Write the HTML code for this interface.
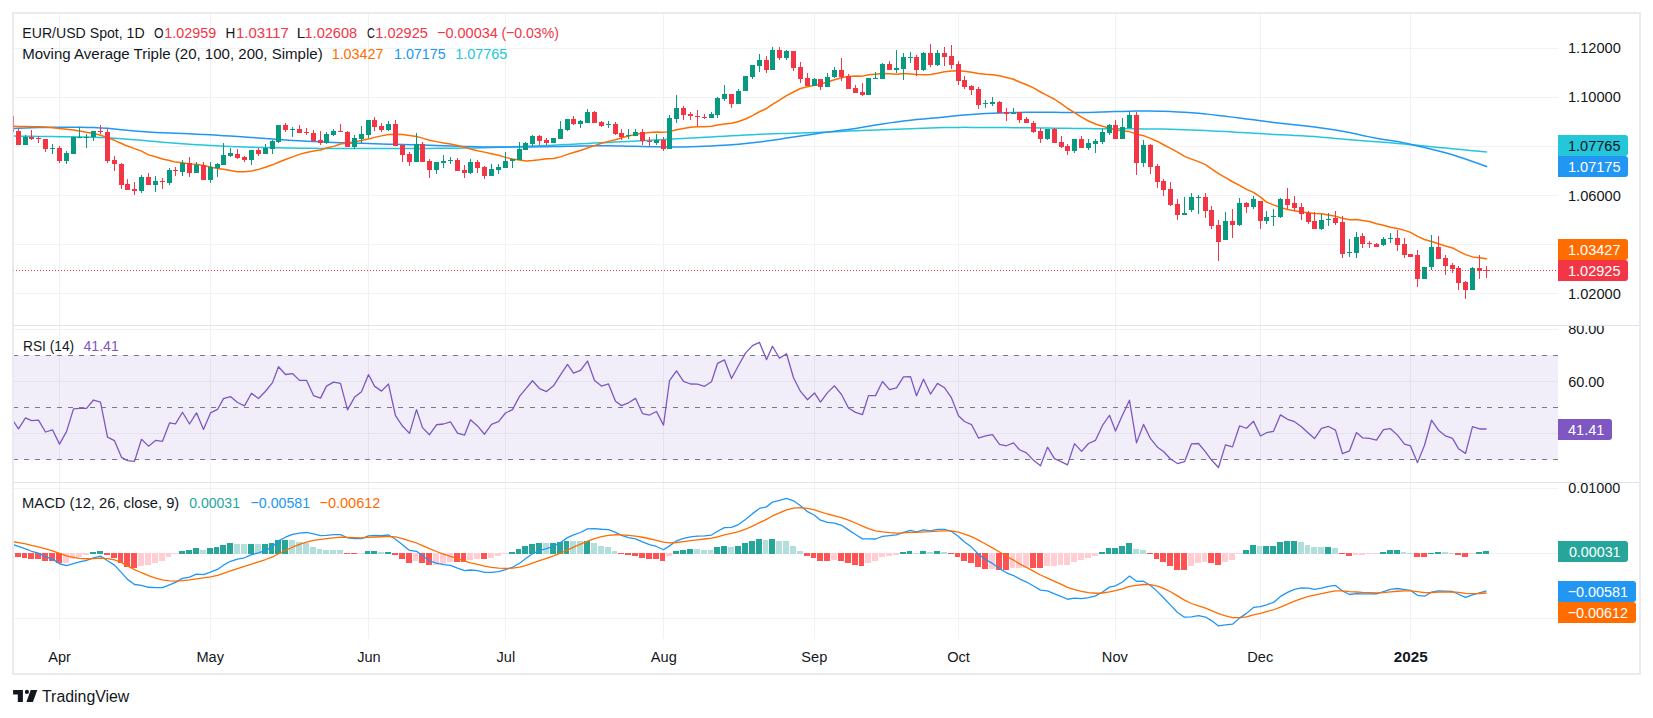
<!DOCTYPE html>
<html><head><meta charset="utf-8"><title>EUR/USD Chart</title>
<style>html,body{margin:0;padding:0;background:#fff;}body{width:1653px;height:718px;overflow:hidden;}</style>
</head><body>
<svg width="1653" height="718" viewBox="0 0 1653 718" style="display:block">
<defs>
<clipPath id="c1"><rect x="14" y="14" width="1544" height="311"/></clipPath>
<clipPath id="c2"><rect x="14" y="326" width="1544" height="156"/></clipPath>
<clipPath id="c3"><rect x="14" y="483" width="1544" height="156"/></clipPath>
<clipPath id="a2"><rect x="1558" y="326" width="81" height="156"/></clipPath>
<clipPath id="a3"><rect x="1558" y="483" width="81" height="156"/></clipPath>
</defs>
<rect width="1653" height="718" fill="#ffffff"/>
<rect x="59" y="14" width="1" height="625" fill="#f1f2f3"/>
<rect x="210" y="14" width="1" height="625" fill="#f1f2f3"/>
<rect x="368" y="14" width="1" height="625" fill="#f1f2f3"/>
<rect x="505" y="14" width="1" height="625" fill="#f1f2f3"/>
<rect x="663" y="14" width="1" height="625" fill="#f1f2f3"/>
<rect x="814" y="14" width="1" height="625" fill="#f1f2f3"/>
<rect x="958" y="14" width="1" height="625" fill="#f1f2f3"/>
<rect x="1115" y="14" width="1" height="625" fill="#f1f2f3"/>
<rect x="1260" y="14" width="1" height="625" fill="#f1f2f3"/>
<rect x="1410" y="14" width="1" height="625" fill="#f1f2f3"/>
<rect x="14" y="48" width="1544" height="1" fill="#f1f2f3"/>
<rect x="14" y="97" width="1544" height="1" fill="#f1f2f3"/>
<rect x="14" y="146" width="1544" height="1" fill="#f1f2f3"/>
<rect x="14" y="195" width="1544" height="1" fill="#f1f2f3"/>
<rect x="14" y="244" width="1544" height="1" fill="#f1f2f3"/>
<rect x="14" y="293" width="1544" height="1" fill="#f1f2f3"/>
<rect x="14" y="329" width="1544" height="1" fill="#f1f2f3"/>
<rect x="14" y="381" width="1544" height="1" fill="#f1f2f3"/>
<rect x="14" y="433" width="1544" height="1" fill="#f1f2f3"/>
<rect x="14" y="488" width="1544" height="1" fill="#f1f2f3"/>
<rect x="14" y="553" width="1544" height="1" fill="#f1f2f3"/>
<rect x="14" y="618" width="1544" height="1" fill="#f1f2f3"/>
<rect x="14" y="355" width="1544" height="105" fill="#7e57c2" fill-opacity="0.1"/>
<line x1="14" y1="355.5" x2="1558" y2="355.5" stroke="#787b86" stroke-width="1" stroke-dasharray="5 6" stroke-dashoffset="1"/>
<line x1="14" y1="407.5" x2="1558" y2="407.5" stroke="#787b86" stroke-width="1" stroke-dasharray="5 6" stroke-dashoffset="1"/>
<line x1="14" y1="459.5" x2="1558" y2="459.5" stroke="#787b86" stroke-width="1" stroke-dasharray="5 6" stroke-dashoffset="1"/>
<g clip-path="url(#c1)" fill="none" stroke-linejoin="round" stroke-linecap="round">
<path d="M11.50,136.08 L18.50,136.15 L25.50,136.23 L31.50,136.31 L38.50,136.38 L45.50,136.46 L52.50,136.55 L59.50,136.64 L66.50,136.74 L73.50,136.84 L79.50,136.94 L86.50,137.05 L93.50,137.19 L100.50,137.40 L107.50,137.73 L114.50,138.16 L121.50,138.66 L127.50,139.19 L134.50,139.76 L141.50,140.37 L148.50,141.00 L155.50,141.61 L162.50,142.22 L169.50,142.80 L175.50,143.36 L182.50,143.87 L189.50,144.32 L196.50,144.72 L203.50,145.09 L210.50,145.45 L217.50,145.80 L223.50,146.15 L230.50,146.49 L237.50,146.80 L244.50,147.05 L251.50,147.25 L258.50,147.42 L265.50,147.58 L272.50,147.73 L278.50,147.87 L285.50,147.99 L292.50,148.10 L299.50,148.18 L306.50,148.26 L313.50,148.34 L320.50,148.41 L326.50,148.46 L333.50,148.49 L340.50,148.50 L347.50,148.50 L354.50,148.50 L361.50,148.50 L368.50,148.50 L374.50,148.50 L381.50,148.50 L388.50,148.50 L395.50,148.50 L402.50,148.50 L409.50,148.49 L416.50,148.47 L422.50,148.43 L429.50,148.38 L436.50,148.33 L443.50,148.28 L450.50,148.22 L457.50,148.17 L464.50,148.12 L470.50,148.05 L477.50,147.95 L484.50,147.79 L491.50,147.58 L498.50,147.34 L505.50,147.09 L512.50,146.83 L519.50,146.56 L525.50,146.29 L532.50,146.01 L539.50,145.73 L546.50,145.43 L553.50,145.13 L560.50,144.81 L567.50,144.49 L573.50,144.15 L580.50,143.81 L587.50,143.47 L594.50,143.12 L601.50,142.77 L608.50,142.43 L615.50,142.10 L621.50,141.78 L628.50,141.45 L635.50,141.11 L642.50,140.75 L649.50,140.35 L656.50,139.94 L663.50,139.53 L669.50,139.14 L676.50,138.77 L683.50,138.41 L690.50,138.06 L697.50,137.71 L704.50,137.34 L711.50,136.98 L717.50,136.61 L724.50,136.24 L731.50,135.85 L738.50,135.46 L745.50,135.08 L752.50,134.70 L759.50,134.36 L766.50,134.08 L772.50,133.83 L779.50,133.60 L786.50,133.38 L793.50,133.15 L800.50,132.92 L807.50,132.70 L814.50,132.47 L820.50,132.23 L827.50,131.97 L834.50,131.69 L841.50,131.40 L848.50,131.10 L855.50,130.81 L862.50,130.52 L868.50,130.24 L875.50,129.96 L882.50,129.68 L889.50,129.41 L896.50,129.15 L903.50,128.91 L910.50,128.66 L916.50,128.43 L923.50,128.19 L930.50,127.95 L937.50,127.74 L944.50,127.57 L951.50,127.45 L958.50,127.38 L964.50,127.36 L971.50,127.38 L978.50,127.42 L985.50,127.46 L992.50,127.51 L999.50,127.55 L1006.50,127.60 L1013.50,127.65 L1019.50,127.71 L1026.50,127.78 L1033.50,127.87 L1040.50,127.97 L1047.50,128.08 L1054.50,128.18 L1061.50,128.28 L1067.50,128.37 L1074.50,128.47 L1081.50,128.55 L1088.50,128.61 L1095.50,128.66 L1102.50,128.69 L1109.50,128.73 L1115.50,128.76 L1122.50,128.79 L1129.50,128.83 L1136.50,128.86 L1143.50,128.89 L1150.50,128.93 L1157.50,128.98 L1163.50,129.08 L1170.50,129.24 L1177.50,129.46 L1184.50,129.71 L1191.50,129.97 L1198.50,130.26 L1205.50,130.57 L1211.50,130.91 L1218.50,131.26 L1225.50,131.62 L1232.50,132.00 L1239.50,132.39 L1246.50,132.80 L1253.50,133.21 L1260.50,133.61 L1266.50,134.01 L1273.50,134.39 L1280.50,134.75 L1287.50,135.09 L1294.50,135.42 L1301.50,135.76 L1308.50,136.13 L1314.50,136.59 L1321.50,137.16 L1328.50,137.81 L1335.50,138.45 L1342.50,139.06 L1349.50,139.63 L1356.50,140.16 L1362.50,140.67 L1369.50,141.19 L1376.50,141.72 L1383.50,142.27 L1390.50,142.82 L1397.50,143.41 L1404.50,144.03 L1410.50,144.69 L1417.50,145.36 L1424.50,146.05 L1431.50,146.74 L1438.50,147.42 L1445.50,148.09 L1452.50,148.74 L1458.50,149.37 L1465.50,150.01 L1472.50,150.67 L1479.50,151.33 L1486.50,152.00" stroke="#26c6da" stroke-width="1.5"/>
<path d="M11.50,128.47 L18.50,128.25 L25.50,128.03 L31.50,127.82 L38.50,127.61 L45.50,127.40 L52.50,127.24 L59.50,127.15 L66.50,127.17 L73.50,127.24 L79.50,127.34 L86.50,127.45 L93.50,127.61 L100.50,127.90 L107.50,128.37 L114.50,129.01 L121.50,129.69 L127.50,130.34 L134.50,130.92 L141.50,131.45 L148.50,131.95 L155.50,132.38 L162.50,132.71 L169.50,132.98 L175.50,133.22 L182.50,133.49 L189.50,133.80 L196.50,134.14 L203.50,134.50 L210.50,134.87 L217.50,135.25 L223.50,135.64 L230.50,136.05 L237.50,136.49 L244.50,136.98 L251.50,137.50 L258.50,138.04 L265.50,138.58 L272.50,139.10 L278.50,139.59 L285.50,140.03 L292.50,140.43 L299.50,140.80 L306.50,141.16 L313.50,141.51 L320.50,141.84 L326.50,142.14 L333.50,142.41 L340.50,142.66 L347.50,142.90 L354.50,143.14 L361.50,143.37 L368.50,143.59 L374.50,143.79 L381.50,143.97 L388.50,144.15 L395.50,144.33 L402.50,144.50 L409.50,144.68 L416.50,144.86 L422.50,145.04 L429.50,145.23 L436.50,145.42 L443.50,145.64 L450.50,145.88 L457.50,146.13 L464.50,146.38 L470.50,146.59 L477.50,146.76 L484.50,146.88 L491.50,146.97 L498.50,147.04 L505.50,147.10 L512.50,147.11 L519.50,147.08 L525.50,147.00 L532.50,146.89 L539.50,146.78 L546.50,146.67 L553.50,146.55 L560.50,146.43 L567.50,146.31 L573.50,146.19 L580.50,146.07 L587.50,145.95 L594.50,145.86 L601.50,145.82 L608.50,145.87 L615.50,145.97 L621.50,146.09 L628.50,146.21 L635.50,146.34 L642.50,146.48 L649.50,146.64 L656.50,146.79 L663.50,146.93 L669.50,147.02 L676.50,147.01 L683.50,146.90 L690.50,146.73 L697.50,146.51 L704.50,146.25 L711.50,145.94 L717.50,145.61 L724.50,145.23 L731.50,144.75 L738.50,144.16 L745.50,143.49 L752.50,142.76 L759.50,141.97 L766.50,141.10 L772.50,140.15 L779.50,139.15 L786.50,138.11 L793.50,137.06 L800.50,136.01 L807.50,134.98 L814.50,133.98 L820.50,133.03 L827.50,132.12 L834.50,131.23 L841.50,130.34 L848.50,129.40 L855.50,128.39 L862.50,127.29 L868.50,126.15 L875.50,125.00 L882.50,123.89 L889.50,122.87 L896.50,121.95 L903.50,121.09 L910.50,120.30 L916.50,119.60 L923.50,118.96 L930.50,118.32 L937.50,117.64 L944.50,116.91 L951.50,116.17 L958.50,115.49 L964.50,114.92 L971.50,114.44 L978.50,114.00 L985.50,113.60 L992.50,113.26 L999.50,112.98 L1006.50,112.76 L1013.50,112.58 L1019.50,112.43 L1026.50,112.35 L1033.50,112.31 L1040.50,112.31 L1047.50,112.32 L1054.50,112.37 L1061.50,112.45 L1067.50,112.55 L1074.50,112.62 L1081.50,112.62 L1088.50,112.51 L1095.50,112.30 L1102.50,112.05 L1109.50,111.80 L1115.50,111.58 L1122.50,111.38 L1129.50,111.20 L1136.50,111.05 L1143.50,110.97 L1150.50,111.01 L1157.50,111.14 L1163.50,111.35 L1170.50,111.62 L1177.50,111.95 L1184.50,112.31 L1191.50,112.72 L1198.50,113.23 L1205.50,113.88 L1211.50,114.63 L1218.50,115.44 L1225.50,116.27 L1232.50,117.13 L1239.50,118.02 L1246.50,118.92 L1253.50,119.84 L1260.50,120.73 L1266.50,121.61 L1273.50,122.46 L1280.50,123.27 L1287.50,124.04 L1294.50,124.80 L1301.50,125.54 L1308.50,126.30 L1314.50,127.09 L1321.50,127.96 L1328.50,128.92 L1335.50,130.00 L1342.50,131.23 L1349.50,132.57 L1356.50,133.96 L1362.50,135.41 L1369.50,136.88 L1376.50,138.26 L1383.50,139.45 L1390.50,140.51 L1397.50,141.61 L1404.50,142.87 L1410.50,144.32 L1417.50,145.92 L1424.50,147.60 L1431.50,149.33 L1438.50,151.07 L1445.50,152.83 L1452.50,154.68 L1458.50,156.72 L1465.50,159.00 L1472.50,161.45 L1479.50,163.97 L1486.50,166.50" stroke="#2196f3" stroke-width="1.5"/>
<path d="M11.50,126.27 L18.50,126.42 L25.50,126.56 L31.50,126.69 L38.50,126.84 L45.50,126.98 L52.50,127.71 L59.50,128.50 L66.50,129.30 L73.50,130.10 L79.50,131.01 L86.50,132.20 L93.50,133.39 L100.50,135.17 L107.50,137.59 L114.50,140.31 L121.50,143.48 L127.50,146.07 L134.50,148.62 L141.50,151.17 L148.50,154.88 L155.50,156.70 L162.50,158.96 L169.50,160.50 L175.50,162.10 L182.50,162.81 L189.50,164.06 L196.50,164.26 L203.50,165.58 L210.50,167.06 L217.50,168.42 L223.50,169.32 L230.50,170.44 L237.50,171.71 L244.50,171.66 L251.50,170.95 L258.50,169.39 L265.50,167.31 L272.50,164.82 L278.50,162.22 L285.50,159.47 L292.50,156.85 L299.50,154.37 L306.50,152.49 L313.50,151.00 L320.50,149.98 L326.50,148.05 L333.50,146.36 L340.50,143.96 L347.50,142.95 L354.50,141.64 L361.50,140.59 L368.50,138.93 L374.50,137.38 L381.50,135.87 L388.50,134.56 L395.50,134.17 L402.50,134.51 L409.50,135.56 L416.50,136.51 L422.50,138.11 L429.50,140.16 L436.50,141.64 L443.50,143.08 L450.50,144.01 L457.50,145.41 L464.50,147.34 L470.50,148.90 L477.50,150.70 L484.50,152.14 L491.50,153.69 L498.50,155.34 L505.50,157.39 L512.50,159.01 L519.50,159.98 L525.50,160.94 L532.50,160.45 L539.50,159.75 L546.50,158.80 L553.50,158.50 L560.50,156.86 L567.50,154.34 L573.50,152.42 L580.50,150.42 L587.50,148.03 L594.50,145.64 L601.50,143.29 L608.50,141.39 L615.50,139.72 L621.50,137.79 L628.50,136.10 L635.50,134.36 L642.50,133.37 L649.50,132.54 L656.50,132.10 L663.50,132.37 L669.50,131.48 L676.50,129.84 L683.50,128.45 L690.50,127.36 L697.50,126.73 L704.50,126.66 L711.50,126.17 L717.50,125.00 L724.50,124.10 L731.50,123.17 L738.50,121.45 L745.50,119.04 L752.50,115.59 L759.50,111.75 L766.50,108.47 L772.50,104.35 L779.50,100.16 L786.50,95.60 L793.50,91.96 L800.50,88.46 L807.50,86.84 L814.50,85.37 L820.50,83.97 L827.50,82.01 L834.50,79.69 L841.50,77.66 L848.50,76.38 L855.50,76.12 L862.50,76.14 L868.50,74.84 L875.50,74.19 L882.50,73.58 L889.50,73.81 L896.50,74.22 L903.50,73.58 L910.50,73.91 L916.50,74.53 L923.50,74.64 L930.50,74.50 L937.50,73.22 L944.50,71.76 L951.50,71.06 L958.50,70.76 L964.50,71.23 L971.50,72.22 L978.50,73.60 L985.50,74.32 L992.50,74.78 L999.50,75.69 L1006.50,77.51 L1013.50,79.25 L1019.50,82.04 L1026.50,84.72 L1033.50,87.91 L1040.50,92.00 L1047.50,95.62 L1054.50,99.25 L1061.50,103.93 L1067.50,108.24 L1074.50,112.52 L1081.50,117.07 L1088.50,120.99 L1095.50,124.01 L1102.50,126.27 L1109.50,128.03 L1115.50,129.75 L1122.50,130.97 L1129.50,131.61 L1136.50,134.13 L1143.50,135.66 L1150.50,138.36 L1157.50,141.44 L1163.50,144.76 L1170.50,148.40 L1177.50,152.19 L1184.50,156.39 L1191.50,159.11 L1198.50,161.62 L1205.50,164.61 L1211.50,168.96 L1218.50,173.66 L1225.50,177.56 L1232.50,181.74 L1239.50,185.31 L1246.50,189.38 L1253.50,192.39 L1260.50,197.06 L1266.50,202.17 L1273.50,204.83 L1280.50,207.53 L1287.50,209.44 L1294.50,210.74 L1301.50,211.93 L1308.50,212.77 L1314.50,213.48 L1321.50,213.83 L1328.50,214.91 L1335.50,216.20 L1342.50,218.35 L1349.50,219.66 L1356.50,219.42 L1362.50,220.56 L1369.50,221.55 L1376.50,223.72 L1383.50,225.34 L1390.50,227.30 L1397.50,228.50 L1404.50,230.36 L1410.50,232.39 L1417.50,236.37 L1424.50,239.50 L1431.50,241.47 L1438.50,243.72 L1445.50,245.93 L1452.50,247.94 L1458.50,251.07 L1465.50,254.62 L1472.50,256.89 L1479.50,257.73 L1486.50,258.68" stroke="#ff6d00" stroke-width="1.5"/>
</g>
<g clip-path="url(#c1)">
<rect x="18" y="129" width="1" height="16" fill="#f23645"/>
<rect x="16" y="131" width="5" height="14" fill="#f23645"/>
<rect x="25" y="135" width="1" height="10" fill="#089981"/>
<rect x="23" y="137" width="5" height="8" fill="#089981"/>
<rect x="31" y="130" width="1" height="10" fill="#f23645"/>
<rect x="29" y="137" width="5" height="2" fill="#f23645"/>
<rect x="38" y="136" width="1" height="7" fill="#f23645"/>
<rect x="36" y="138" width="5" height="1" fill="#f23645"/>
<rect x="45" y="139" width="1" height="13" fill="#f23645"/>
<rect x="43" y="139" width="5" height="10" fill="#f23645"/>
<rect x="52" y="144" width="1" height="10" fill="#089981"/>
<rect x="50" y="148" width="5" height="1" fill="#089981"/>
<rect x="59" y="146" width="1" height="17" fill="#f23645"/>
<rect x="57" y="148" width="5" height="13" fill="#f23645"/>
<rect x="66" y="151" width="1" height="13" fill="#089981"/>
<rect x="64" y="153" width="5" height="8" fill="#089981"/>
<rect x="73" y="137" width="1" height="17" fill="#089981"/>
<rect x="71" y="137" width="5" height="17" fill="#089981"/>
<rect x="79" y="127" width="1" height="11" fill="#089981"/>
<rect x="77" y="137" width="5" height="1" fill="#089981"/>
<rect x="86" y="134" width="1" height="14" fill="#089981"/>
<rect x="84" y="137" width="5" height="1" fill="#089981"/>
<rect x="93" y="131" width="1" height="10" fill="#089981"/>
<rect x="91" y="131" width="5" height="6" fill="#089981"/>
<rect x="100" y="125" width="1" height="9" fill="#f23645"/>
<rect x="98" y="131" width="5" height="1" fill="#f23645"/>
<rect x="107" y="129" width="1" height="34" fill="#f23645"/>
<rect x="105" y="132" width="5" height="29" fill="#f23645"/>
<rect x="114" y="156" width="1" height="15" fill="#f23645"/>
<rect x="112" y="160" width="5" height="4" fill="#f23645"/>
<rect x="121" y="163" width="1" height="26" fill="#f23645"/>
<rect x="119" y="164" width="5" height="21" fill="#f23645"/>
<rect x="127" y="179" width="1" height="11" fill="#f23645"/>
<rect x="125" y="184" width="5" height="6" fill="#f23645"/>
<rect x="134" y="182" width="1" height="13" fill="#f23645"/>
<rect x="132" y="189" width="5" height="2" fill="#f23645"/>
<rect x="141" y="175" width="1" height="18" fill="#089981"/>
<rect x="139" y="177" width="5" height="14" fill="#089981"/>
<rect x="148" y="173" width="1" height="12" fill="#f23645"/>
<rect x="146" y="177" width="5" height="8" fill="#f23645"/>
<rect x="155" y="176" width="1" height="16" fill="#089981"/>
<rect x="153" y="181" width="5" height="4" fill="#089981"/>
<rect x="162" y="178" width="1" height="11" fill="#f23645"/>
<rect x="160" y="181" width="5" height="1" fill="#f23645"/>
<rect x="169" y="168" width="1" height="17" fill="#089981"/>
<rect x="167" y="170" width="5" height="13" fill="#089981"/>
<rect x="175" y="167" width="1" height="9" fill="#f23645"/>
<rect x="173" y="170" width="5" height="1" fill="#f23645"/>
<rect x="182" y="160" width="1" height="16" fill="#089981"/>
<rect x="180" y="163" width="5" height="9" fill="#089981"/>
<rect x="189" y="157" width="1" height="20" fill="#f23645"/>
<rect x="187" y="163" width="5" height="10" fill="#f23645"/>
<rect x="196" y="162" width="1" height="11" fill="#089981"/>
<rect x="194" y="165" width="5" height="8" fill="#089981"/>
<rect x="203" y="162" width="1" height="18" fill="#f23645"/>
<rect x="201" y="165" width="5" height="15" fill="#f23645"/>
<rect x="210" y="162" width="1" height="21" fill="#089981"/>
<rect x="208" y="167" width="5" height="13" fill="#089981"/>
<rect x="217" y="163" width="1" height="14" fill="#089981"/>
<rect x="215" y="164" width="5" height="4" fill="#089981"/>
<rect x="223" y="143" width="1" height="22" fill="#089981"/>
<rect x="221" y="155" width="5" height="10" fill="#089981"/>
<rect x="230" y="148" width="1" height="9" fill="#089981"/>
<rect x="228" y="153" width="5" height="3" fill="#089981"/>
<rect x="237" y="149" width="1" height="10" fill="#f23645"/>
<rect x="235" y="154" width="5" height="4" fill="#f23645"/>
<rect x="244" y="156" width="1" height="6" fill="#f23645"/>
<rect x="242" y="157" width="5" height="3" fill="#f23645"/>
<rect x="251" y="150" width="1" height="15" fill="#089981"/>
<rect x="249" y="150" width="5" height="10" fill="#089981"/>
<rect x="258" y="148" width="1" height="8" fill="#f23645"/>
<rect x="256" y="150" width="5" height="4" fill="#f23645"/>
<rect x="265" y="144" width="1" height="10" fill="#089981"/>
<rect x="263" y="148" width="5" height="6" fill="#089981"/>
<rect x="272" y="140" width="1" height="14" fill="#089981"/>
<rect x="270" y="141" width="5" height="8" fill="#089981"/>
<rect x="278" y="125" width="1" height="18" fill="#089981"/>
<rect x="276" y="125" width="5" height="17" fill="#089981"/>
<rect x="285" y="123" width="1" height="9" fill="#f23645"/>
<rect x="283" y="125" width="5" height="5" fill="#f23645"/>
<rect x="292" y="127" width="1" height="10" fill="#089981"/>
<rect x="290" y="129" width="5" height="1" fill="#089981"/>
<rect x="299" y="125" width="1" height="8" fill="#f23645"/>
<rect x="297" y="129" width="5" height="4" fill="#f23645"/>
<rect x="306" y="128" width="1" height="7" fill="#f23645"/>
<rect x="304" y="132" width="5" height="1" fill="#f23645"/>
<rect x="313" y="130" width="1" height="12" fill="#f23645"/>
<rect x="311" y="133" width="5" height="8" fill="#f23645"/>
<rect x="320" y="131" width="1" height="14" fill="#f23645"/>
<rect x="318" y="140" width="5" height="3" fill="#f23645"/>
<rect x="326" y="132" width="1" height="12" fill="#089981"/>
<rect x="324" y="134" width="5" height="9" fill="#089981"/>
<rect x="333" y="129" width="1" height="7" fill="#089981"/>
<rect x="331" y="131" width="5" height="4" fill="#089981"/>
<rect x="340" y="124" width="1" height="8" fill="#f23645"/>
<rect x="338" y="131" width="5" height="1" fill="#f23645"/>
<rect x="347" y="131" width="1" height="16" fill="#f23645"/>
<rect x="345" y="132" width="5" height="15" fill="#f23645"/>
<rect x="354" y="135" width="1" height="14" fill="#089981"/>
<rect x="352" y="138" width="5" height="9" fill="#089981"/>
<rect x="361" y="126" width="1" height="17" fill="#089981"/>
<rect x="359" y="134" width="5" height="5" fill="#089981"/>
<rect x="368" y="120" width="1" height="18" fill="#089981"/>
<rect x="366" y="120" width="5" height="15" fill="#089981"/>
<rect x="374" y="117" width="1" height="14" fill="#f23645"/>
<rect x="372" y="120" width="5" height="7" fill="#f23645"/>
<rect x="381" y="123" width="1" height="9" fill="#f23645"/>
<rect x="379" y="126" width="5" height="4" fill="#f23645"/>
<rect x="388" y="121" width="1" height="10" fill="#089981"/>
<rect x="386" y="124" width="5" height="6" fill="#089981"/>
<rect x="395" y="120" width="1" height="26" fill="#f23645"/>
<rect x="393" y="124" width="5" height="22" fill="#f23645"/>
<rect x="402" y="145" width="1" height="17" fill="#f23645"/>
<rect x="400" y="145" width="5" height="10" fill="#f23645"/>
<rect x="409" y="152" width="1" height="14" fill="#f23645"/>
<rect x="407" y="154" width="5" height="8" fill="#f23645"/>
<rect x="416" y="133" width="1" height="29" fill="#089981"/>
<rect x="414" y="144" width="5" height="18" fill="#089981"/>
<rect x="422" y="142" width="1" height="20" fill="#f23645"/>
<rect x="420" y="144" width="5" height="18" fill="#f23645"/>
<rect x="429" y="159" width="1" height="19" fill="#f23645"/>
<rect x="427" y="161" width="5" height="9" fill="#f23645"/>
<rect x="436" y="162" width="1" height="12" fill="#089981"/>
<rect x="434" y="162" width="5" height="8" fill="#089981"/>
<rect x="443" y="155" width="1" height="13" fill="#089981"/>
<rect x="441" y="161" width="5" height="2" fill="#089981"/>
<rect x="450" y="157" width="1" height="7" fill="#089981"/>
<rect x="448" y="160" width="5" height="1" fill="#089981"/>
<rect x="457" y="158" width="1" height="13" fill="#f23645"/>
<rect x="455" y="160" width="5" height="11" fill="#f23645"/>
<rect x="464" y="165" width="1" height="13" fill="#f23645"/>
<rect x="462" y="170" width="5" height="3" fill="#f23645"/>
<rect x="470" y="159" width="1" height="15" fill="#089981"/>
<rect x="468" y="162" width="5" height="11" fill="#089981"/>
<rect x="477" y="160" width="1" height="13" fill="#f23645"/>
<rect x="475" y="162" width="5" height="6" fill="#f23645"/>
<rect x="484" y="166" width="1" height="13" fill="#f23645"/>
<rect x="482" y="167" width="5" height="9" fill="#f23645"/>
<rect x="491" y="164" width="1" height="12" fill="#089981"/>
<rect x="489" y="169" width="5" height="7" fill="#089981"/>
<rect x="498" y="164" width="1" height="10" fill="#089981"/>
<rect x="496" y="167" width="5" height="3" fill="#089981"/>
<rect x="505" y="152" width="1" height="16" fill="#089981"/>
<rect x="503" y="161" width="5" height="7" fill="#089981"/>
<rect x="512" y="159" width="1" height="9" fill="#089981"/>
<rect x="510" y="159" width="5" height="2" fill="#089981"/>
<rect x="519" y="142" width="1" height="18" fill="#089981"/>
<rect x="517" y="149" width="5" height="11" fill="#089981"/>
<rect x="525" y="142" width="1" height="8" fill="#089981"/>
<rect x="523" y="143" width="5" height="7" fill="#089981"/>
<rect x="532" y="135" width="1" height="11" fill="#089981"/>
<rect x="530" y="136" width="5" height="8" fill="#089981"/>
<rect x="539" y="135" width="1" height="10" fill="#f23645"/>
<rect x="537" y="136" width="5" height="5" fill="#f23645"/>
<rect x="546" y="138" width="1" height="7" fill="#f23645"/>
<rect x="544" y="140" width="5" height="3" fill="#f23645"/>
<rect x="553" y="138" width="1" height="5" fill="#089981"/>
<rect x="551" y="138" width="5" height="5" fill="#089981"/>
<rect x="560" y="121" width="1" height="18" fill="#089981"/>
<rect x="558" y="129" width="5" height="10" fill="#089981"/>
<rect x="567" y="119" width="1" height="12" fill="#089981"/>
<rect x="565" y="119" width="5" height="11" fill="#089981"/>
<rect x="573" y="116" width="1" height="9" fill="#f23645"/>
<rect x="571" y="119" width="5" height="5" fill="#f23645"/>
<rect x="580" y="120" width="1" height="8" fill="#089981"/>
<rect x="578" y="121" width="5" height="3" fill="#089981"/>
<rect x="587" y="109" width="1" height="14" fill="#089981"/>
<rect x="585" y="112" width="5" height="11" fill="#089981"/>
<rect x="594" y="111" width="1" height="12" fill="#f23645"/>
<rect x="592" y="112" width="5" height="11" fill="#f23645"/>
<rect x="601" y="121" width="1" height="6" fill="#f23645"/>
<rect x="599" y="122" width="5" height="4" fill="#f23645"/>
<rect x="608" y="121" width="1" height="7" fill="#089981"/>
<rect x="606" y="124" width="5" height="1" fill="#089981"/>
<rect x="615" y="122" width="1" height="13" fill="#f23645"/>
<rect x="613" y="124" width="5" height="10" fill="#f23645"/>
<rect x="621" y="129" width="1" height="11" fill="#f23645"/>
<rect x="619" y="133" width="5" height="4" fill="#f23645"/>
<rect x="628" y="129" width="1" height="10" fill="#089981"/>
<rect x="626" y="135" width="5" height="1" fill="#089981"/>
<rect x="635" y="129" width="1" height="7" fill="#089981"/>
<rect x="633" y="132" width="5" height="4" fill="#089981"/>
<rect x="642" y="129" width="1" height="16" fill="#f23645"/>
<rect x="640" y="132" width="5" height="9" fill="#f23645"/>
<rect x="649" y="137" width="1" height="9" fill="#f23645"/>
<rect x="647" y="141" width="5" height="1" fill="#f23645"/>
<rect x="656" y="134" width="1" height="11" fill="#089981"/>
<rect x="654" y="140" width="5" height="3" fill="#089981"/>
<rect x="663" y="137" width="1" height="14" fill="#f23645"/>
<rect x="661" y="140" width="5" height="9" fill="#f23645"/>
<rect x="669" y="115" width="1" height="34" fill="#089981"/>
<rect x="667" y="118" width="5" height="31" fill="#089981"/>
<rect x="676" y="95" width="1" height="28" fill="#089981"/>
<rect x="674" y="108" width="5" height="11" fill="#089981"/>
<rect x="683" y="106" width="1" height="14" fill="#f23645"/>
<rect x="681" y="108" width="5" height="7" fill="#f23645"/>
<rect x="690" y="112" width="1" height="8" fill="#f23645"/>
<rect x="688" y="114" width="5" height="2" fill="#f23645"/>
<rect x="697" y="110" width="1" height="16" fill="#f23645"/>
<rect x="695" y="116" width="5" height="1" fill="#f23645"/>
<rect x="704" y="114" width="1" height="5" fill="#f23645"/>
<rect x="702" y="117" width="5" height="1" fill="#f23645"/>
<rect x="711" y="112" width="1" height="6" fill="#089981"/>
<rect x="709" y="114" width="5" height="4" fill="#089981"/>
<rect x="717" y="97" width="1" height="21" fill="#089981"/>
<rect x="715" y="98" width="5" height="17" fill="#089981"/>
<rect x="724" y="85" width="1" height="16" fill="#089981"/>
<rect x="722" y="94" width="5" height="5" fill="#089981"/>
<rect x="731" y="94" width="1" height="14" fill="#f23645"/>
<rect x="729" y="94" width="5" height="10" fill="#f23645"/>
<rect x="738" y="89" width="1" height="15" fill="#089981"/>
<rect x="736" y="91" width="5" height="13" fill="#089981"/>
<rect x="745" y="76" width="1" height="15" fill="#089981"/>
<rect x="743" y="76" width="5" height="15" fill="#089981"/>
<rect x="752" y="65" width="1" height="14" fill="#089981"/>
<rect x="750" y="65" width="5" height="12" fill="#089981"/>
<rect x="759" y="54" width="1" height="18" fill="#089981"/>
<rect x="757" y="60" width="5" height="6" fill="#089981"/>
<rect x="766" y="56" width="1" height="17" fill="#f23645"/>
<rect x="764" y="60" width="5" height="10" fill="#f23645"/>
<rect x="772" y="47" width="1" height="23" fill="#089981"/>
<rect x="770" y="50" width="5" height="20" fill="#089981"/>
<rect x="779" y="47" width="1" height="13" fill="#f23645"/>
<rect x="777" y="50" width="5" height="8" fill="#f23645"/>
<rect x="786" y="50" width="1" height="10" fill="#089981"/>
<rect x="784" y="51" width="5" height="7" fill="#089981"/>
<rect x="793" y="51" width="1" height="20" fill="#f23645"/>
<rect x="791" y="51" width="5" height="17" fill="#f23645"/>
<rect x="800" y="62" width="1" height="21" fill="#f23645"/>
<rect x="798" y="67" width="5" height="12" fill="#f23645"/>
<rect x="807" y="73" width="1" height="13" fill="#f23645"/>
<rect x="805" y="78" width="5" height="8" fill="#f23645"/>
<rect x="814" y="78" width="1" height="8" fill="#089981"/>
<rect x="812" y="79" width="5" height="7" fill="#089981"/>
<rect x="820" y="79" width="1" height="11" fill="#f23645"/>
<rect x="818" y="79" width="5" height="8" fill="#f23645"/>
<rect x="827" y="73" width="1" height="14" fill="#089981"/>
<rect x="825" y="77" width="5" height="10" fill="#089981"/>
<rect x="834" y="67" width="1" height="11" fill="#089981"/>
<rect x="832" y="70" width="5" height="7" fill="#089981"/>
<rect x="841" y="58" width="1" height="23" fill="#f23645"/>
<rect x="839" y="70" width="5" height="7" fill="#f23645"/>
<rect x="848" y="74" width="1" height="15" fill="#f23645"/>
<rect x="846" y="76" width="5" height="13" fill="#f23645"/>
<rect x="855" y="85" width="1" height="8" fill="#f23645"/>
<rect x="853" y="88" width="5" height="5" fill="#f23645"/>
<rect x="862" y="83" width="1" height="13" fill="#f23645"/>
<rect x="860" y="92" width="5" height="3" fill="#f23645"/>
<rect x="868" y="78" width="1" height="17" fill="#089981"/>
<rect x="866" y="78" width="5" height="17" fill="#089981"/>
<rect x="875" y="72" width="1" height="7" fill="#089981"/>
<rect x="873" y="78" width="5" height="1" fill="#089981"/>
<rect x="882" y="63" width="1" height="16" fill="#089981"/>
<rect x="880" y="64" width="5" height="15" fill="#089981"/>
<rect x="889" y="61" width="1" height="9" fill="#f23645"/>
<rect x="887" y="64" width="5" height="6" fill="#f23645"/>
<rect x="896" y="50" width="1" height="23" fill="#089981"/>
<rect x="894" y="68" width="5" height="2" fill="#089981"/>
<rect x="903" y="53" width="1" height="27" fill="#089981"/>
<rect x="901" y="57" width="5" height="12" fill="#089981"/>
<rect x="910" y="52" width="1" height="11" fill="#089981"/>
<rect x="908" y="57" width="5" height="1" fill="#089981"/>
<rect x="916" y="55" width="1" height="21" fill="#f23645"/>
<rect x="914" y="57" width="5" height="13" fill="#f23645"/>
<rect x="923" y="52" width="1" height="19" fill="#089981"/>
<rect x="921" y="53" width="5" height="17" fill="#089981"/>
<rect x="930" y="44" width="1" height="23" fill="#f23645"/>
<rect x="928" y="53" width="5" height="12" fill="#f23645"/>
<rect x="937" y="50" width="1" height="16" fill="#089981"/>
<rect x="935" y="53" width="5" height="12" fill="#089981"/>
<rect x="944" y="47" width="1" height="19" fill="#f23645"/>
<rect x="942" y="53" width="5" height="4" fill="#f23645"/>
<rect x="951" y="45" width="1" height="24" fill="#f23645"/>
<rect x="949" y="56" width="5" height="9" fill="#f23645"/>
<rect x="958" y="61" width="1" height="24" fill="#f23645"/>
<rect x="956" y="64" width="5" height="17" fill="#f23645"/>
<rect x="964" y="76" width="1" height="13" fill="#f23645"/>
<rect x="962" y="80" width="5" height="7" fill="#f23645"/>
<rect x="971" y="85" width="1" height="10" fill="#f23645"/>
<rect x="969" y="86" width="5" height="4" fill="#f23645"/>
<rect x="978" y="87" width="1" height="22" fill="#f23645"/>
<rect x="976" y="89" width="5" height="16" fill="#f23645"/>
<rect x="985" y="100" width="1" height="8" fill="#089981"/>
<rect x="983" y="103" width="5" height="1" fill="#089981"/>
<rect x="992" y="97" width="1" height="9" fill="#089981"/>
<rect x="990" y="102" width="5" height="2" fill="#089981"/>
<rect x="999" y="101" width="1" height="12" fill="#f23645"/>
<rect x="997" y="102" width="5" height="11" fill="#f23645"/>
<rect x="1006" y="108" width="1" height="13" fill="#f23645"/>
<rect x="1004" y="112" width="5" height="2" fill="#f23645"/>
<rect x="1013" y="108" width="1" height="6" fill="#089981"/>
<rect x="1011" y="113" width="5" height="1" fill="#089981"/>
<rect x="1019" y="112" width="1" height="11" fill="#f23645"/>
<rect x="1017" y="112" width="5" height="8" fill="#f23645"/>
<rect x="1026" y="117" width="1" height="6" fill="#f23645"/>
<rect x="1024" y="119" width="5" height="4" fill="#f23645"/>
<rect x="1033" y="121" width="1" height="12" fill="#f23645"/>
<rect x="1031" y="123" width="5" height="9" fill="#f23645"/>
<rect x="1040" y="128" width="1" height="15" fill="#f23645"/>
<rect x="1038" y="131" width="5" height="8" fill="#f23645"/>
<rect x="1047" y="129" width="1" height="11" fill="#089981"/>
<rect x="1045" y="129" width="5" height="10" fill="#089981"/>
<rect x="1054" y="128" width="1" height="15" fill="#f23645"/>
<rect x="1052" y="129" width="5" height="14" fill="#f23645"/>
<rect x="1061" y="136" width="1" height="12" fill="#f23645"/>
<rect x="1059" y="142" width="5" height="5" fill="#f23645"/>
<rect x="1067" y="144" width="1" height="11" fill="#f23645"/>
<rect x="1065" y="146" width="5" height="5" fill="#f23645"/>
<rect x="1074" y="139" width="1" height="14" fill="#089981"/>
<rect x="1072" y="139" width="5" height="12" fill="#089981"/>
<rect x="1081" y="136" width="1" height="12" fill="#f23645"/>
<rect x="1079" y="139" width="5" height="9" fill="#f23645"/>
<rect x="1088" y="139" width="1" height="11" fill="#089981"/>
<rect x="1086" y="143" width="5" height="5" fill="#089981"/>
<rect x="1095" y="139" width="1" height="14" fill="#089981"/>
<rect x="1093" y="141" width="5" height="3" fill="#089981"/>
<rect x="1102" y="129" width="1" height="15" fill="#089981"/>
<rect x="1100" y="132" width="5" height="10" fill="#089981"/>
<rect x="1109" y="124" width="1" height="11" fill="#089981"/>
<rect x="1107" y="125" width="5" height="8" fill="#089981"/>
<rect x="1115" y="120" width="1" height="19" fill="#f23645"/>
<rect x="1113" y="125" width="5" height="14" fill="#f23645"/>
<rect x="1122" y="118" width="1" height="21" fill="#089981"/>
<rect x="1120" y="127" width="5" height="12" fill="#089981"/>
<rect x="1129" y="112" width="1" height="16" fill="#089981"/>
<rect x="1127" y="115" width="5" height="13" fill="#089981"/>
<rect x="1136" y="112" width="1" height="63" fill="#f23645"/>
<rect x="1134" y="115" width="5" height="48" fill="#f23645"/>
<rect x="1143" y="140" width="1" height="27" fill="#089981"/>
<rect x="1141" y="145" width="5" height="18" fill="#089981"/>
<rect x="1150" y="144" width="1" height="30" fill="#f23645"/>
<rect x="1148" y="145" width="5" height="22" fill="#f23645"/>
<rect x="1157" y="164" width="1" height="24" fill="#f23645"/>
<rect x="1155" y="166" width="5" height="16" fill="#f23645"/>
<rect x="1163" y="179" width="1" height="17" fill="#f23645"/>
<rect x="1161" y="181" width="5" height="9" fill="#f23645"/>
<rect x="1170" y="182" width="1" height="24" fill="#f23645"/>
<rect x="1168" y="189" width="5" height="16" fill="#f23645"/>
<rect x="1177" y="199" width="1" height="21" fill="#f23645"/>
<rect x="1175" y="204" width="5" height="11" fill="#f23645"/>
<rect x="1184" y="197" width="1" height="18" fill="#089981"/>
<rect x="1182" y="213" width="5" height="2" fill="#089981"/>
<rect x="1191" y="193" width="1" height="19" fill="#089981"/>
<rect x="1189" y="197" width="5" height="13" fill="#089981"/>
<rect x="1198" y="195" width="1" height="19" fill="#089981"/>
<rect x="1196" y="197" width="5" height="1" fill="#089981"/>
<rect x="1205" y="193" width="1" height="25" fill="#f23645"/>
<rect x="1203" y="197" width="5" height="14" fill="#f23645"/>
<rect x="1211" y="206" width="1" height="23" fill="#f23645"/>
<rect x="1209" y="210" width="5" height="16" fill="#f23645"/>
<rect x="1218" y="220" width="1" height="41" fill="#f23645"/>
<rect x="1216" y="225" width="5" height="17" fill="#f23645"/>
<rect x="1225" y="212" width="1" height="28" fill="#089981"/>
<rect x="1223" y="221" width="5" height="19" fill="#089981"/>
<rect x="1232" y="209" width="1" height="29" fill="#f23645"/>
<rect x="1230" y="221" width="5" height="4" fill="#f23645"/>
<rect x="1239" y="198" width="1" height="28" fill="#089981"/>
<rect x="1237" y="203" width="5" height="22" fill="#089981"/>
<rect x="1246" y="202" width="1" height="11" fill="#f23645"/>
<rect x="1244" y="203" width="5" height="4" fill="#f23645"/>
<rect x="1253" y="196" width="1" height="13" fill="#089981"/>
<rect x="1251" y="199" width="5" height="8" fill="#089981"/>
<rect x="1260" y="201" width="1" height="28" fill="#f23645"/>
<rect x="1258" y="201" width="5" height="20" fill="#f23645"/>
<rect x="1266" y="211" width="1" height="13" fill="#089981"/>
<rect x="1264" y="217" width="5" height="4" fill="#089981"/>
<rect x="1273" y="209" width="1" height="17" fill="#089981"/>
<rect x="1271" y="216" width="5" height="1" fill="#089981"/>
<rect x="1280" y="198" width="1" height="20" fill="#089981"/>
<rect x="1278" y="199" width="5" height="18" fill="#089981"/>
<rect x="1287" y="188" width="1" height="21" fill="#f23645"/>
<rect x="1285" y="199" width="5" height="6" fill="#f23645"/>
<rect x="1294" y="196" width="1" height="15" fill="#f23645"/>
<rect x="1292" y="203" width="5" height="5" fill="#f23645"/>
<rect x="1301" y="203" width="1" height="17" fill="#f23645"/>
<rect x="1299" y="207" width="5" height="7" fill="#f23645"/>
<rect x="1308" y="211" width="1" height="13" fill="#f23645"/>
<rect x="1306" y="213" width="5" height="9" fill="#f23645"/>
<rect x="1314" y="212" width="1" height="17" fill="#f23645"/>
<rect x="1312" y="221" width="5" height="8" fill="#f23645"/>
<rect x="1321" y="214" width="1" height="16" fill="#089981"/>
<rect x="1319" y="220" width="5" height="9" fill="#089981"/>
<rect x="1328" y="213" width="1" height="13" fill="#089981"/>
<rect x="1326" y="219" width="5" height="1" fill="#089981"/>
<rect x="1335" y="211" width="1" height="14" fill="#f23645"/>
<rect x="1333" y="218" width="5" height="5" fill="#f23645"/>
<rect x="1342" y="216" width="1" height="42" fill="#f23645"/>
<rect x="1340" y="222" width="5" height="32" fill="#f23645"/>
<rect x="1349" y="239" width="1" height="18" fill="#089981"/>
<rect x="1347" y="252" width="5" height="1" fill="#089981"/>
<rect x="1356" y="232" width="1" height="26" fill="#089981"/>
<rect x="1354" y="237" width="5" height="16" fill="#089981"/>
<rect x="1362" y="233" width="1" height="15" fill="#f23645"/>
<rect x="1360" y="236" width="5" height="8" fill="#f23645"/>
<rect x="1369" y="241" width="1" height="7" fill="#f23645"/>
<rect x="1367" y="243" width="5" height="1" fill="#f23645"/>
<rect x="1376" y="243" width="1" height="4" fill="#f23645"/>
<rect x="1374" y="244" width="5" height="3" fill="#f23645"/>
<rect x="1383" y="237" width="1" height="9" fill="#089981"/>
<rect x="1381" y="239" width="5" height="6" fill="#089981"/>
<rect x="1390" y="233" width="1" height="10" fill="#089981"/>
<rect x="1388" y="238" width="5" height="1" fill="#089981"/>
<rect x="1397" y="230" width="1" height="21" fill="#f23645"/>
<rect x="1395" y="238" width="5" height="7" fill="#f23645"/>
<rect x="1404" y="238" width="1" height="20" fill="#f23645"/>
<rect x="1402" y="244" width="5" height="11" fill="#f23645"/>
<rect x="1410" y="254" width="1" height="3" fill="#f23645"/>
<rect x="1408" y="254" width="5" height="3" fill="#f23645"/>
<rect x="1417" y="250" width="1" height="37" fill="#f23645"/>
<rect x="1415" y="255" width="5" height="24" fill="#f23645"/>
<rect x="1424" y="267" width="1" height="12" fill="#089981"/>
<rect x="1422" y="267" width="5" height="12" fill="#089981"/>
<rect x="1431" y="235" width="1" height="35" fill="#089981"/>
<rect x="1429" y="247" width="5" height="20" fill="#089981"/>
<rect x="1438" y="236" width="1" height="23" fill="#f23645"/>
<rect x="1436" y="247" width="5" height="12" fill="#f23645"/>
<rect x="1445" y="255" width="1" height="20" fill="#f23645"/>
<rect x="1443" y="258" width="5" height="8" fill="#f23645"/>
<rect x="1452" y="263" width="1" height="10" fill="#f23645"/>
<rect x="1450" y="265" width="5" height="4" fill="#f23645"/>
<rect x="1458" y="266" width="1" height="24" fill="#f23645"/>
<rect x="1456" y="268" width="5" height="15" fill="#f23645"/>
<rect x="1465" y="281" width="1" height="18" fill="#f23645"/>
<rect x="1463" y="282" width="5" height="8" fill="#f23645"/>
<rect x="1472" y="267" width="1" height="23" fill="#089981"/>
<rect x="1470" y="268" width="5" height="22" fill="#089981"/>
<rect x="1479" y="255" width="1" height="24" fill="#f23645"/>
<rect x="1477" y="268" width="5" height="3" fill="#f23645"/>
<rect x="1486" y="266" width="1" height="12" fill="#f23645"/>
<rect x="1484" y="270" width="5" height="1" fill="#f23645"/>
</g>
<line x1="14" y1="270.5" x2="1558" y2="270.5" stroke="#f23645" stroke-width="1" stroke-dasharray="1 2" stroke-dashoffset="1"/>
<g clip-path="url(#c2)"><path d="M11.50,418.35 L18.50,428.78 L25.50,417.96 L31.50,420.65 L38.50,420.20 L45.50,432.00 L52.50,429.83 L59.50,444.16 L66.50,431.60 L73.50,408.85 L79.50,408.46 L86.50,408.46 L93.50,400.01 L100.50,402.05 L107.50,437.16 L114.50,440.68 L121.50,457.35 L127.50,460.63 L134.50,461.35 L141.50,439.30 L148.50,446.16 L155.50,440.42 L162.50,441.28 L169.50,422.98 L175.50,423.89 L182.50,412.24 L189.50,424.03 L196.50,412.84 L203.50,429.47 L210.50,412.89 L217.50,409.45 L223.50,398.65 L230.50,396.57 L237.50,402.51 L244.50,405.85 L251.50,393.24 L258.50,398.49 L265.50,391.22 L272.50,382.63 L278.50,366.78 L285.50,374.51 L292.50,373.59 L299.50,380.35 L306.50,380.35 L313.50,395.53 L320.50,398.10 L326.50,386.11 L333.50,382.15 L340.50,383.36 L347.50,409.87 L354.50,397.33 L361.50,391.64 L368.50,374.57 L374.50,386.13 L381.50,391.14 L388.50,384.03 L395.50,415.74 L402.50,426.04 L409.50,433.41 L416.50,409.59 L422.50,427.65 L429.50,434.72 L436.50,424.76 L443.50,424.00 L450.50,421.96 L457.50,433.08 L464.50,435.16 L470.50,419.74 L477.50,425.94 L484.50,434.21 L491.50,424.41 L498.50,421.61 L505.50,412.98 L512.50,409.66 L519.50,396.41 L525.50,389.08 L532.50,380.71 L539.50,388.55 L546.50,391.55 L553.50,385.78 L560.50,374.81 L567.50,364.47 L573.50,373.18 L580.50,370.43 L587.50,361.02 L594.50,380.52 L601.50,386.06 L608.50,383.90 L615.50,401.18 L621.50,405.61 L628.50,402.79 L635.50,398.33 L642.50,413.58 L649.50,415.03 L656.50,411.47 L663.50,425.14 L669.50,380.73 L676.50,370.80 L683.50,381.29 L690.50,384.01 L697.50,384.18 L704.50,386.33 L711.50,381.72 L717.50,363.45 L724.50,359.91 L731.50,378.50 L738.50,365.49 L745.50,353.10 L752.50,345.57 L759.50,342.40 L766.50,359.61 L772.50,346.22 L779.50,358.25 L786.50,353.74 L793.50,377.79 L800.50,391.44 L807.50,399.74 L814.50,392.95 L820.50,402.09 L827.50,392.62 L834.50,385.83 L841.50,394.52 L848.50,408.06 L855.50,412.42 L862.50,414.54 L868.50,395.66 L875.50,395.66 L882.50,381.53 L889.50,389.62 L896.50,387.87 L903.50,376.85 L910.50,376.57 L916.50,395.80 L923.50,379.19 L930.50,394.09 L937.50,383.33 L944.50,387.72 L951.50,397.92 L958.50,415.68 L964.50,421.51 L971.50,424.56 L978.50,438.05 L985.50,435.98 L992.50,434.53 L999.50,444.27 L1006.50,445.77 L1013.50,442.91 L1019.50,449.72 L1026.50,452.92 L1033.50,460.35 L1040.50,465.79 L1047.50,447.12 L1054.50,458.67 L1061.50,461.86 L1067.50,464.87 L1074.50,443.66 L1081.50,451.43 L1088.50,443.52 L1095.50,440.30 L1102.50,425.49 L1109.50,415.25 L1115.50,431.10 L1122.50,415.07 L1129.50,400.30 L1136.50,442.88 L1143.50,424.41 L1150.50,438.67 L1157.50,447.20 L1163.50,451.56 L1170.50,459.04 L1177.50,463.56 L1184.50,461.70 L1191.50,443.83 L1198.50,443.50 L1205.50,451.96 L1211.50,460.02 L1218.50,467.54 L1225.50,444.88 L1232.50,446.91 L1239.50,425.94 L1246.50,428.25 L1253.50,421.28 L1260.50,435.95 L1266.50,432.71 L1273.50,431.27 L1280.50,414.84 L1287.50,419.29 L1294.50,421.68 L1301.50,426.66 L1308.50,433.19 L1314.50,438.55 L1321.50,428.28 L1328.50,426.47 L1335.50,430.16 L1342.50,453.71 L1349.50,450.84 L1356.50,432.54 L1362.50,437.82 L1369.50,438.29 L1376.50,440.10 L1383.50,429.53 L1390.50,428.72 L1397.50,435.11 L1404.50,444.04 L1410.50,445.88 L1417.50,462.63 L1424.50,445.29 L1431.50,420.21 L1438.50,430.13 L1445.50,435.88 L1452.50,438.34 L1458.50,448.67 L1465.50,453.38 L1472.50,426.68 L1479.50,428.98 L1486.50,428.98" fill="none" stroke="#7e57c2" stroke-width="1.3" stroke-linejoin="round"/></g>
<g clip-path="url(#c3)">
<rect x="8" y="553" width="6" height="3" fill="#ff5252"/>
<rect x="15" y="553" width="6" height="4" fill="#ff5252"/>
<rect x="22" y="553" width="5" height="5" fill="#ff5252"/>
<rect x="28" y="553" width="6" height="6" fill="#ff5252"/>
<rect x="35" y="553" width="6" height="6" fill="#ff5252"/>
<rect x="42" y="553" width="6" height="8" fill="#ff5252"/>
<rect x="49" y="553" width="6" height="8" fill="#ff5252"/>
<rect x="56" y="553" width="6" height="10" fill="#ff5252"/>
<rect x="63" y="553" width="6" height="10" fill="#ffcdd2"/>
<rect x="70" y="553" width="5" height="6" fill="#ffcdd2"/>
<rect x="76" y="553" width="6" height="4" fill="#ffcdd2"/>
<rect x="83" y="553" width="6" height="2" fill="#ffcdd2"/>
<rect x="90" y="552" width="6" height="2" fill="#26a69a"/>
<rect x="97" y="551" width="6" height="3" fill="#26a69a"/>
<rect x="104" y="553" width="6" height="2" fill="#ff5252"/>
<rect x="111" y="553" width="6" height="5" fill="#ff5252"/>
<rect x="118" y="553" width="5" height="10" fill="#ff5252"/>
<rect x="124" y="553" width="6" height="14" fill="#ff5252"/>
<rect x="131" y="553" width="6" height="15" fill="#ff5252"/>
<rect x="138" y="553" width="6" height="13" fill="#ffcdd2"/>
<rect x="145" y="553" width="6" height="12" fill="#ffcdd2"/>
<rect x="152" y="553" width="6" height="10" fill="#ffcdd2"/>
<rect x="159" y="553" width="6" height="8" fill="#ffcdd2"/>
<rect x="166" y="553" width="5" height="4" fill="#ffcdd2"/>
<rect x="172" y="553" width="6" height="1" fill="#ffcdd2"/>
<rect x="179" y="551" width="6" height="3" fill="#26a69a"/>
<rect x="186" y="550" width="6" height="4" fill="#26a69a"/>
<rect x="193" y="548" width="6" height="6" fill="#26a69a"/>
<rect x="200" y="550" width="6" height="4" fill="#b2dfdb"/>
<rect x="207" y="548" width="6" height="6" fill="#26a69a"/>
<rect x="214" y="547" width="5" height="7" fill="#26a69a"/>
<rect x="220" y="545" width="6" height="9" fill="#26a69a"/>
<rect x="227" y="543" width="6" height="11" fill="#26a69a"/>
<rect x="234" y="544" width="6" height="10" fill="#b2dfdb"/>
<rect x="241" y="544" width="6" height="10" fill="#b2dfdb"/>
<rect x="248" y="544" width="6" height="10" fill="#26a69a"/>
<rect x="255" y="544" width="6" height="10" fill="#b2dfdb"/>
<rect x="262" y="544" width="6" height="10" fill="#26a69a"/>
<rect x="269" y="543" width="5" height="11" fill="#26a69a"/>
<rect x="275" y="540" width="6" height="14" fill="#26a69a"/>
<rect x="282" y="540" width="6" height="14" fill="#26a69a"/>
<rect x="289" y="540" width="6" height="14" fill="#b2dfdb"/>
<rect x="296" y="542" width="6" height="12" fill="#b2dfdb"/>
<rect x="303" y="543" width="6" height="11" fill="#b2dfdb"/>
<rect x="310" y="547" width="6" height="7" fill="#b2dfdb"/>
<rect x="317" y="549" width="5" height="5" fill="#b2dfdb"/>
<rect x="323" y="550" width="6" height="4" fill="#b2dfdb"/>
<rect x="330" y="550" width="6" height="4" fill="#b2dfdb"/>
<rect x="337" y="550" width="6" height="4" fill="#b2dfdb"/>
<rect x="344" y="553" width="6" height="1" fill="#ff5252"/>
<rect x="351" y="553" width="6" height="1" fill="#ff5252"/>
<rect x="358" y="553" width="6" height="1" fill="#ffcdd2"/>
<rect x="365" y="551" width="5" height="3" fill="#26a69a"/>
<rect x="371" y="551" width="6" height="3" fill="#26a69a"/>
<rect x="378" y="552" width="6" height="2" fill="#b2dfdb"/>
<rect x="385" y="552" width="6" height="2" fill="#26a69a"/>
<rect x="392" y="553" width="6" height="2" fill="#ff5252"/>
<rect x="399" y="553" width="6" height="6" fill="#ff5252"/>
<rect x="406" y="553" width="6" height="10" fill="#ff5252"/>
<rect x="413" y="553" width="5" height="8" fill="#ffcdd2"/>
<rect x="419" y="553" width="6" height="10" fill="#ff5252"/>
<rect x="426" y="553" width="6" height="12" fill="#ff5252"/>
<rect x="433" y="553" width="6" height="12" fill="#ffcdd2"/>
<rect x="440" y="553" width="6" height="11" fill="#ffcdd2"/>
<rect x="447" y="553" width="6" height="9" fill="#ffcdd2"/>
<rect x="454" y="553" width="6" height="9" fill="#ff5252"/>
<rect x="461" y="553" width="5" height="9" fill="#ff5252"/>
<rect x="467" y="553" width="6" height="7" fill="#ffcdd2"/>
<rect x="474" y="553" width="6" height="6" fill="#ffcdd2"/>
<rect x="481" y="553" width="6" height="6" fill="#ff5252"/>
<rect x="488" y="553" width="6" height="5" fill="#ffcdd2"/>
<rect x="495" y="553" width="6" height="3" fill="#ffcdd2"/>
<rect x="502" y="553" width="6" height="1" fill="#ffcdd2"/>
<rect x="509" y="552" width="6" height="2" fill="#26a69a"/>
<rect x="516" y="549" width="5" height="5" fill="#26a69a"/>
<rect x="522" y="546" width="6" height="8" fill="#26a69a"/>
<rect x="529" y="544" width="6" height="10" fill="#26a69a"/>
<rect x="536" y="543" width="6" height="11" fill="#26a69a"/>
<rect x="543" y="543" width="6" height="11" fill="#b2dfdb"/>
<rect x="550" y="543" width="6" height="11" fill="#26a69a"/>
<rect x="557" y="542" width="6" height="12" fill="#26a69a"/>
<rect x="564" y="541" width="5" height="13" fill="#26a69a"/>
<rect x="570" y="541" width="6" height="13" fill="#b2dfdb"/>
<rect x="577" y="541" width="6" height="13" fill="#b2dfdb"/>
<rect x="584" y="541" width="6" height="13" fill="#26a69a"/>
<rect x="591" y="543" width="6" height="11" fill="#b2dfdb"/>
<rect x="598" y="546" width="6" height="8" fill="#b2dfdb"/>
<rect x="605" y="547" width="6" height="7" fill="#b2dfdb"/>
<rect x="612" y="551" width="5" height="3" fill="#b2dfdb"/>
<rect x="618" y="553" width="6" height="1" fill="#ff5252"/>
<rect x="625" y="553" width="6" height="2" fill="#ff5252"/>
<rect x="632" y="553" width="6" height="3" fill="#ff5252"/>
<rect x="639" y="553" width="6" height="5" fill="#ff5252"/>
<rect x="646" y="553" width="6" height="6" fill="#ff5252"/>
<rect x="653" y="553" width="6" height="6" fill="#ff5252"/>
<rect x="660" y="553" width="5" height="8" fill="#ff5252"/>
<rect x="666" y="553" width="6" height="3" fill="#ffcdd2"/>
<rect x="673" y="551" width="6" height="3" fill="#26a69a"/>
<rect x="680" y="550" width="6" height="4" fill="#26a69a"/>
<rect x="687" y="549" width="6" height="5" fill="#26a69a"/>
<rect x="694" y="549" width="6" height="5" fill="#b2dfdb"/>
<rect x="701" y="550" width="6" height="4" fill="#b2dfdb"/>
<rect x="708" y="550" width="5" height="4" fill="#b2dfdb"/>
<rect x="714" y="547" width="6" height="7" fill="#26a69a"/>
<rect x="721" y="546" width="6" height="8" fill="#26a69a"/>
<rect x="728" y="547" width="6" height="7" fill="#b2dfdb"/>
<rect x="735" y="546" width="6" height="8" fill="#26a69a"/>
<rect x="742" y="543" width="6" height="11" fill="#26a69a"/>
<rect x="749" y="541" width="6" height="13" fill="#26a69a"/>
<rect x="756" y="539" width="6" height="15" fill="#26a69a"/>
<rect x="763" y="540" width="5" height="14" fill="#b2dfdb"/>
<rect x="769" y="539" width="6" height="15" fill="#26a69a"/>
<rect x="776" y="541" width="6" height="13" fill="#b2dfdb"/>
<rect x="783" y="541" width="6" height="13" fill="#b2dfdb"/>
<rect x="790" y="546" width="6" height="8" fill="#b2dfdb"/>
<rect x="797" y="551" width="6" height="3" fill="#b2dfdb"/>
<rect x="804" y="553" width="6" height="3" fill="#ff5252"/>
<rect x="811" y="553" width="5" height="5" fill="#ff5252"/>
<rect x="817" y="553" width="6" height="8" fill="#ff5252"/>
<rect x="824" y="553" width="6" height="8" fill="#ff5252"/>
<rect x="831" y="553" width="6" height="7" fill="#ffcdd2"/>
<rect x="838" y="553" width="6" height="8" fill="#ff5252"/>
<rect x="845" y="553" width="6" height="10" fill="#ff5252"/>
<rect x="852" y="553" width="6" height="12" fill="#ff5252"/>
<rect x="859" y="553" width="5" height="13" fill="#ff5252"/>
<rect x="865" y="553" width="6" height="10" fill="#ffcdd2"/>
<rect x="872" y="553" width="6" height="8" fill="#ffcdd2"/>
<rect x="879" y="553" width="6" height="4" fill="#ffcdd2"/>
<rect x="886" y="553" width="6" height="3" fill="#ffcdd2"/>
<rect x="893" y="553" width="6" height="2" fill="#ffcdd2"/>
<rect x="900" y="552" width="6" height="2" fill="#26a69a"/>
<rect x="907" y="551" width="5" height="3" fill="#26a69a"/>
<rect x="913" y="553" width="6" height="1" fill="#b2dfdb"/>
<rect x="920" y="551" width="6" height="3" fill="#26a69a"/>
<rect x="927" y="552" width="6" height="2" fill="#b2dfdb"/>
<rect x="934" y="551" width="6" height="3" fill="#26a69a"/>
<rect x="941" y="552" width="6" height="2" fill="#b2dfdb"/>
<rect x="948" y="553" width="6" height="1" fill="#ff5252"/>
<rect x="955" y="553" width="5" height="4" fill="#ff5252"/>
<rect x="961" y="553" width="6" height="8" fill="#ff5252"/>
<rect x="968" y="553" width="6" height="10" fill="#ff5252"/>
<rect x="975" y="553" width="6" height="14" fill="#ff5252"/>
<rect x="982" y="553" width="6" height="16" fill="#ff5252"/>
<rect x="989" y="553" width="6" height="16" fill="#ffcdd2"/>
<rect x="996" y="553" width="6" height="17" fill="#ff5252"/>
<rect x="1003" y="553" width="6" height="17" fill="#ff5252"/>
<rect x="1010" y="553" width="5" height="15" fill="#ffcdd2"/>
<rect x="1016" y="553" width="6" height="15" fill="#ffcdd2"/>
<rect x="1023" y="553" width="6" height="15" fill="#ffcdd2"/>
<rect x="1030" y="553" width="6" height="15" fill="#ff5252"/>
<rect x="1037" y="553" width="6" height="15" fill="#ff5252"/>
<rect x="1044" y="553" width="6" height="13" fill="#ffcdd2"/>
<rect x="1051" y="553" width="6" height="13" fill="#ffcdd2"/>
<rect x="1058" y="553" width="5" height="12" fill="#ffcdd2"/>
<rect x="1064" y="553" width="6" height="12" fill="#ffcdd2"/>
<rect x="1071" y="553" width="6" height="9" fill="#ffcdd2"/>
<rect x="1078" y="553" width="6" height="7" fill="#ffcdd2"/>
<rect x="1085" y="553" width="6" height="5" fill="#ffcdd2"/>
<rect x="1092" y="553" width="6" height="3" fill="#ffcdd2"/>
<rect x="1099" y="552" width="6" height="2" fill="#26a69a"/>
<rect x="1106" y="548" width="5" height="6" fill="#26a69a"/>
<rect x="1112" y="548" width="6" height="6" fill="#26a69a"/>
<rect x="1119" y="546" width="6" height="8" fill="#26a69a"/>
<rect x="1126" y="543" width="6" height="11" fill="#26a69a"/>
<rect x="1133" y="549" width="6" height="5" fill="#b2dfdb"/>
<rect x="1140" y="550" width="6" height="4" fill="#b2dfdb"/>
<rect x="1147" y="553" width="6" height="1" fill="#ff5252"/>
<rect x="1154" y="553" width="5" height="6" fill="#ff5252"/>
<rect x="1160" y="553" width="6" height="9" fill="#ff5252"/>
<rect x="1167" y="553" width="6" height="13" fill="#ff5252"/>
<rect x="1174" y="553" width="6" height="17" fill="#ff5252"/>
<rect x="1181" y="553" width="6" height="17" fill="#ff5252"/>
<rect x="1188" y="553" width="6" height="13" fill="#ffcdd2"/>
<rect x="1195" y="553" width="6" height="10" fill="#ffcdd2"/>
<rect x="1202" y="553" width="5" height="9" fill="#ffcdd2"/>
<rect x="1208" y="553" width="6" height="10" fill="#ff5252"/>
<rect x="1215" y="553" width="6" height="12" fill="#ff5252"/>
<rect x="1222" y="553" width="6" height="9" fill="#ffcdd2"/>
<rect x="1229" y="553" width="6" height="7" fill="#ffcdd2"/>
<rect x="1236" y="553" width="6" height="1" fill="#ffcdd2"/>
<rect x="1243" y="550" width="6" height="4" fill="#26a69a"/>
<rect x="1250" y="545" width="6" height="9" fill="#26a69a"/>
<rect x="1257" y="546" width="5" height="8" fill="#b2dfdb"/>
<rect x="1263" y="546" width="6" height="8" fill="#26a69a"/>
<rect x="1270" y="546" width="6" height="8" fill="#26a69a"/>
<rect x="1277" y="542" width="6" height="12" fill="#26a69a"/>
<rect x="1284" y="541" width="6" height="13" fill="#26a69a"/>
<rect x="1291" y="541" width="6" height="13" fill="#26a69a"/>
<rect x="1298" y="542" width="6" height="12" fill="#b2dfdb"/>
<rect x="1305" y="545" width="5" height="9" fill="#b2dfdb"/>
<rect x="1311" y="547" width="6" height="7" fill="#b2dfdb"/>
<rect x="1318" y="547" width="6" height="7" fill="#b2dfdb"/>
<rect x="1325" y="547" width="6" height="7" fill="#26a69a"/>
<rect x="1332" y="548" width="6" height="6" fill="#b2dfdb"/>
<rect x="1339" y="553" width="6" height="1" fill="#ff5252"/>
<rect x="1346" y="553" width="6" height="3" fill="#ff5252"/>
<rect x="1353" y="553" width="5" height="2" fill="#ffcdd2"/>
<rect x="1359" y="553" width="6" height="2" fill="#ffcdd2"/>
<rect x="1366" y="553" width="6" height="1" fill="#ffcdd2"/>
<rect x="1373" y="553" width="6" height="1" fill="#ffcdd2"/>
<rect x="1380" y="552" width="6" height="2" fill="#26a69a"/>
<rect x="1387" y="550" width="6" height="4" fill="#26a69a"/>
<rect x="1394" y="550" width="6" height="4" fill="#26a69a"/>
<rect x="1401" y="552" width="5" height="2" fill="#b2dfdb"/>
<rect x="1407" y="553" width="6" height="1" fill="#b2dfdb"/>
<rect x="1414" y="553" width="6" height="4" fill="#ff5252"/>
<rect x="1421" y="553" width="6" height="4" fill="#ff5252"/>
<rect x="1428" y="553" width="6" height="1" fill="#26a69a"/>
<rect x="1435" y="552" width="6" height="2" fill="#26a69a"/>
<rect x="1442" y="552" width="6" height="2" fill="#b2dfdb"/>
<rect x="1449" y="553" width="5" height="1" fill="#b2dfdb"/>
<rect x="1455" y="553" width="6" height="2" fill="#ff5252"/>
<rect x="1462" y="553" width="6" height="4" fill="#ff5252"/>
<rect x="1469" y="553" width="6" height="1" fill="#ffcdd2"/>
<rect x="1476" y="552" width="6" height="2" fill="#26a69a"/>
<rect x="1483" y="551" width="6" height="3" fill="#26a69a"/>
<path d="M11.50,544.11 L18.50,546.49 L25.50,548.87 L31.50,551.27 L38.50,553.11 L45.50,556.64 L52.50,559.10 L59.50,563.75 L66.50,565.68 L73.50,563.66 L79.50,561.89 L86.50,560.40 L93.50,557.88 L100.50,556.12 L107.50,560.75 L114.50,565.08 L121.50,572.65 L127.50,579.36 L134.50,584.52 L141.50,585.33 L148.50,587.26 L155.50,587.61 L162.50,587.67 L169.50,584.80 L175.50,582.37 L182.50,578.42 L189.50,577.10 L196.50,574.12 L203.50,574.68 L210.50,572.20 L217.50,569.44 L223.50,565.17 L230.50,561.30 L237.50,559.08 L244.50,557.78 L251.50,554.64 L258.50,552.90 L265.50,550.32 L272.50,546.81 L278.50,540.80 L285.50,537.21 L292.50,534.39 L299.50,533.19 L306.50,532.48 L313.50,533.95 L320.50,535.65 L326.50,535.37 L333.50,534.72 L340.50,534.54 L347.50,537.77 L354.50,538.70 L361.50,538.72 L368.50,535.90 L374.50,535.32 L381.50,535.69 L388.50,535.00 L395.50,539.26 L402.50,544.66 L409.50,550.47 L416.50,551.30 L422.50,555.72 L429.50,560.85 L436.50,563.13 L443.50,564.67 L450.50,565.42 L457.50,568.14 L464.50,570.55 L470.50,569.98 L477.50,570.53 L484.50,572.44 L491.50,572.31 L498.50,571.59 L505.50,569.56 L512.50,567.30 L519.50,563.30 L525.50,558.81 L532.50,553.69 L539.50,550.67 L546.50,548.71 L553.50,546.30 L560.50,542.55 L567.50,537.63 L573.50,534.93 L580.50,532.49 L587.50,528.89 L594.50,528.54 L601.50,529.23 L608.50,529.67 L615.50,532.43 L621.50,535.42 L628.50,537.58 L635.50,538.85 L642.50,541.92 L649.50,544.64 L656.50,546.47 L663.50,549.73 L669.50,545.86 L676.50,540.79 L683.50,538.33 L690.50,536.93 L697.50,536.04 L704.50,535.79 L711.50,535.05 L717.50,531.22 L724.50,527.68 L731.50,527.28 L738.50,524.54 L745.50,519.52 L752.50,513.63 L759.50,508.41 L766.50,506.88 L772.50,502.02 L779.50,500.39 L786.50,498.32 L793.50,500.84 L800.50,505.74 L807.50,511.65 L814.50,515.28 L820.50,520.21 L827.50,522.46 L834.50,523.04 L841.50,525.30 L848.50,529.86 L855.50,534.55 L862.50,538.84 L868.50,538.84 L875.50,539.00 L882.50,536.30 L889.50,535.64 L896.50,534.97 L903.50,532.27 L910.50,530.33 L916.50,531.86 L923.50,529.77 L930.50,530.83 L937.50,529.47 L944.50,529.40 L951.50,531.33 L958.50,536.50 L964.50,541.99 L971.50,547.08 L978.50,554.26 L985.50,559.56 L992.50,563.43 L999.50,568.58 L1006.50,572.81 L1013.50,575.53 L1019.50,578.93 L1026.50,582.04 L1033.50,585.97 L1040.50,590.14 L1047.50,590.86 L1054.50,593.90 L1061.50,596.70 L1067.50,599.25 L1074.50,598.19 L1081.50,598.72 L1088.50,597.61 L1095.50,595.83 L1102.50,592.02 L1109.50,587.13 L1115.50,585.83 L1122.50,582.01 L1129.50,576.07 L1136.50,581.31 L1143.50,581.27 L1150.50,585.50 L1157.50,591.63 L1163.50,597.72 L1170.50,605.17 L1177.50,612.48 L1184.50,617.20 L1191.50,616.79 L1198.50,615.68 L1205.50,617.06 L1211.50,620.60 L1218.50,625.97 L1225.50,624.97 L1232.50,624.14 L1239.50,618.12 L1246.50,613.38 L1253.50,607.41 L1260.50,606.67 L1266.50,604.78 L1273.50,602.41 L1280.50,596.43 L1287.50,592.42 L1294.50,589.44 L1301.50,587.96 L1308.50,588.12 L1314.50,589.31 L1321.50,588.02 L1328.50,586.30 L1335.50,585.42 L1342.50,591.01 L1349.50,594.50 L1356.50,593.62 L1362.50,593.93 L1369.50,593.83 L1376.50,593.76 L1383.50,591.58 L1390.50,589.31 L1397.50,588.49 L1404.50,589.53 L1410.50,590.37 L1417.50,595.28 L1424.50,596.19 L1431.50,592.13 L1438.50,590.96 L1445.50,591.14 L1452.50,591.50 L1458.50,594.27 L1465.50,597.44 L1472.50,594.83 L1479.50,592.90 L1486.50,590.94" fill="none" stroke="#2196f3" stroke-width="1.3" stroke-linejoin="round"/>
<path d="M11.50,541.33 L18.50,542.58 L25.50,543.84 L31.50,545.33 L38.50,546.88 L45.50,548.84 L52.50,550.89 L59.50,553.46 L66.50,555.90 L73.50,557.46 L79.50,558.34 L86.50,558.75 L93.50,558.58 L100.50,558.09 L107.50,558.62 L114.50,559.91 L121.50,562.46 L127.50,565.84 L134.50,569.57 L141.50,572.72 L148.50,575.63 L155.50,578.03 L162.50,579.96 L169.50,580.93 L175.50,581.21 L182.50,580.66 L189.50,579.95 L196.50,578.78 L203.50,577.96 L210.50,576.81 L217.50,575.33 L223.50,573.30 L230.50,570.90 L237.50,568.54 L244.50,566.39 L251.50,564.04 L258.50,561.81 L265.50,559.51 L272.50,556.97 L278.50,553.74 L285.50,550.43 L292.50,547.22 L299.50,544.42 L306.50,542.03 L313.50,540.41 L320.50,539.46 L326.50,538.64 L333.50,537.86 L340.50,537.19 L347.50,537.31 L354.50,537.59 L361.50,537.81 L368.50,537.43 L374.50,537.01 L381.50,536.75 L388.50,536.40 L395.50,536.97 L402.50,538.51 L409.50,540.90 L416.50,542.98 L422.50,545.53 L429.50,548.59 L436.50,551.50 L443.50,554.13 L450.50,556.39 L457.50,558.74 L464.50,561.10 L470.50,562.88 L477.50,564.41 L484.50,566.02 L491.50,567.28 L498.50,568.14 L505.50,568.42 L512.50,568.20 L519.50,567.22 L525.50,565.54 L532.50,563.17 L539.50,560.67 L546.50,558.28 L553.50,555.88 L560.50,553.21 L567.50,550.10 L573.50,547.07 L580.50,544.15 L587.50,541.10 L594.50,538.59 L601.50,536.71 L608.50,535.31 L615.50,534.73 L621.50,534.87 L628.50,535.41 L635.50,536.10 L642.50,537.26 L649.50,538.74 L656.50,540.28 L663.50,542.17 L669.50,542.91 L676.50,542.49 L683.50,541.65 L690.50,540.71 L697.50,539.78 L704.50,538.98 L711.50,538.19 L717.50,536.80 L724.50,534.98 L731.50,533.44 L738.50,531.66 L745.50,529.23 L752.50,526.11 L759.50,522.57 L766.50,519.43 L772.50,515.95 L779.50,512.84 L786.50,509.93 L793.50,508.12 L800.50,507.64 L807.50,508.44 L814.50,509.81 L820.50,511.89 L827.50,514.00 L834.50,515.81 L841.50,517.71 L848.50,520.14 L855.50,523.02 L862.50,526.18 L868.50,528.71 L875.50,530.77 L882.50,531.88 L889.50,532.63 L896.50,533.10 L903.50,532.93 L910.50,532.41 L916.50,532.30 L923.50,531.79 L930.50,531.60 L937.50,531.18 L944.50,530.82 L951.50,530.92 L958.50,532.04 L964.50,534.03 L971.50,536.64 L978.50,540.16 L985.50,544.04 L992.50,547.92 L999.50,552.05 L1006.50,556.20 L1013.50,560.07 L1019.50,563.84 L1026.50,567.48 L1033.50,571.18 L1040.50,574.97 L1047.50,578.15 L1054.50,581.30 L1061.50,584.38 L1067.50,587.35 L1074.50,589.52 L1081.50,591.36 L1088.50,592.61 L1095.50,593.25 L1102.50,593.01 L1109.50,591.83 L1115.50,590.63 L1122.50,588.91 L1129.50,586.34 L1136.50,585.33 L1143.50,584.52 L1150.50,584.72 L1157.50,586.10 L1163.50,588.42 L1170.50,591.77 L1177.50,595.92 L1184.50,600.17 L1191.50,603.50 L1198.50,605.93 L1205.50,608.16 L1211.50,610.65 L1218.50,613.71 L1225.50,615.96 L1232.50,617.60 L1239.50,617.70 L1246.50,616.84 L1253.50,614.95 L1260.50,613.30 L1266.50,611.59 L1273.50,609.76 L1280.50,607.09 L1287.50,604.16 L1294.50,601.21 L1301.50,598.56 L1308.50,596.47 L1314.50,595.04 L1321.50,593.64 L1328.50,592.17 L1335.50,590.82 L1342.50,590.86 L1349.50,591.59 L1356.50,591.99 L1362.50,592.38 L1369.50,592.67 L1376.50,592.89 L1383.50,592.63 L1390.50,591.96 L1397.50,591.27 L1404.50,590.92 L1410.50,590.81 L1417.50,591.70 L1424.50,592.60 L1431.50,592.51 L1438.50,592.20 L1445.50,591.99 L1452.50,591.89 L1458.50,592.37 L1465.50,593.38 L1472.50,593.67 L1479.50,593.52 L1486.50,593.00" fill="none" stroke="#ff6d00" stroke-width="1.3" stroke-linejoin="round"/>
</g>
<rect x="14" y="325" width="1625" height="1" fill="#e0e3eb"/>
<rect x="14" y="482" width="1625" height="1" fill="#e0e3eb"/>
<rect x="12" y="12" width="1629" height="2" fill="#eaebf0"/>
<rect x="12" y="673" width="1629" height="2" fill="#eaebf0"/>
<rect x="12" y="12" width="2" height="663" fill="#eaebf0"/>
<rect x="1639" y="12" width="2" height="663" fill="#eaebf0"/>
<rect x="13" y="116" width="1" height="16" fill="#f23645" fill-opacity="0.6"/>
<rect x="13" y="270" width="1" height="1" fill="#f23645" fill-opacity="0.4"/>
<path d="M1558,135 H1625 Q1628,135 1628,138 V153 Q1628,156 1625,156 H1558 Z" fill="#26c6da"/>
<path d="M1558,156 H1625 Q1628,156 1628,159 V174 Q1628,177 1625,177 H1558 Z" fill="#2196f3"/>
<path d="M1558,239 H1625 Q1628,239 1628,242 V257 Q1628,260 1625,260 H1558 Z" fill="#ff6d00"/>
<path d="M1558,260 H1625 Q1628,260 1628,263 V278 Q1628,281 1625,281 H1558 Z" fill="#f23645"/>
<path d="M1558,419 H1609 Q1612,419 1612,422 V437 Q1612,440 1609,440 H1558 Z" fill="#7e57c2"/>
<path d="M1558,541 H1625 Q1628,541 1628,544 V559 Q1628,562 1625,562 H1558 Z" fill="#26a69a"/>
<path d="M1558,581 H1633 Q1636,581 1636,584 V599 Q1636,602 1633,602 H1558 Z" fill="#2196f3"/>
<path d="M1558,602 H1633 Q1636,602 1636,605 V620 Q1636,623 1633,623 H1558 Z" fill="#ff6d00"/>
<text x="1567.96" y="53.00" font-family="Liberation Sans, Arial, sans-serif" font-size="15.5" font-weight="normal" fill="#131722" textLength="52.87" lengthAdjust="spacingAndGlyphs">1.12000</text>
<text x="1567.96" y="102.00" font-family="Liberation Sans, Arial, sans-serif" font-size="15.5" font-weight="normal" fill="#131722" textLength="52.87" lengthAdjust="spacingAndGlyphs">1.10000</text>
<text x="1567.96" y="201.00" font-family="Liberation Sans, Arial, sans-serif" font-size="15.5" font-weight="normal" fill="#131722" textLength="52.87" lengthAdjust="spacingAndGlyphs">1.06000</text>
<text x="1567.96" y="299.00" font-family="Liberation Sans, Arial, sans-serif" font-size="15.5" font-weight="normal" fill="#131722" textLength="52.87" lengthAdjust="spacingAndGlyphs">1.02000</text>
<text x="1568.20" y="334.00" font-family="Liberation Sans, Arial, sans-serif" font-size="15.5" font-weight="normal" fill="#131722" textLength="36.21" lengthAdjust="spacingAndGlyphs" clip-path="url(#a2)">80.00</text>
<text x="1568.20" y="386.50" font-family="Liberation Sans, Arial, sans-serif" font-size="15.5" font-weight="normal" fill="#131722" textLength="36.21" lengthAdjust="spacingAndGlyphs" clip-path="url(#a2)">60.00</text>
<text x="1568.30" y="493.00" font-family="Liberation Sans, Arial, sans-serif" font-size="15.5" font-weight="normal" fill="#131722" textLength="52.03" lengthAdjust="spacingAndGlyphs" clip-path="url(#a3)">0.01000</text>
<text x="1567.96" y="151.00" font-family="Liberation Sans, Arial, sans-serif" font-size="15.5" font-weight="normal" fill="#131722" textLength="52.57" lengthAdjust="spacingAndGlyphs">1.07765</text>
<text x="1567.96" y="172.00" font-family="Liberation Sans, Arial, sans-serif" font-size="15.5" font-weight="normal" fill="#ffffff" textLength="52.57" lengthAdjust="spacingAndGlyphs">1.07175</text>
<text x="1567.96" y="255.00" font-family="Liberation Sans, Arial, sans-serif" font-size="15.5" font-weight="normal" fill="#ffffff" textLength="52.57" lengthAdjust="spacingAndGlyphs">1.03427</text>
<text x="1567.96" y="276.00" font-family="Liberation Sans, Arial, sans-serif" font-size="15.5" font-weight="normal" fill="#ffffff" textLength="52.57" lengthAdjust="spacingAndGlyphs">1.02925</text>
<text x="1568.00" y="435.00" font-family="Liberation Sans, Arial, sans-serif" font-size="15.5" font-weight="normal" fill="#ffffff" textLength="36.45" lengthAdjust="spacingAndGlyphs">41.41</text>
<text x="1568.90" y="557.00" font-family="Liberation Sans, Arial, sans-serif" font-size="15.5" font-weight="normal" fill="#ffffff" textLength="51.63" lengthAdjust="spacingAndGlyphs">0.00031</text>
<text x="1567.67" y="597.00" font-family="Liberation Sans, Arial, sans-serif" font-size="15.5" font-weight="normal" fill="#ffffff" textLength="60.42" lengthAdjust="spacingAndGlyphs">−0.00581</text>
<text x="1567.67" y="618.00" font-family="Liberation Sans, Arial, sans-serif" font-size="15.5" font-weight="normal" fill="#ffffff" textLength="60.42" lengthAdjust="spacingAndGlyphs">−0.00612</text>
<text x="48.21" y="661.80" font-family="Liberation Sans, Arial, sans-serif" font-size="15.5" font-weight="normal" fill="#131722" textLength="22.69" lengthAdjust="spacingAndGlyphs">Apr</text>
<text x="196.39" y="661.80" font-family="Liberation Sans, Arial, sans-serif" font-size="15.5" font-weight="normal" fill="#131722" textLength="27.56" lengthAdjust="spacingAndGlyphs">May</text>
<text x="357.21" y="661.80" font-family="Liberation Sans, Arial, sans-serif" font-size="15.5" font-weight="normal" fill="#131722" textLength="23.51" lengthAdjust="spacingAndGlyphs">Jun</text>
<text x="496.56" y="661.80" font-family="Liberation Sans, Arial, sans-serif" font-size="15.5" font-weight="normal" fill="#131722" textLength="18.65" lengthAdjust="spacingAndGlyphs">Jul</text>
<text x="650.80" y="661.80" font-family="Liberation Sans, Arial, sans-serif" font-size="15.5" font-weight="normal" fill="#131722" textLength="25.95" lengthAdjust="spacingAndGlyphs">Aug</text>
<text x="801.33" y="661.80" font-family="Liberation Sans, Arial, sans-serif" font-size="15.5" font-weight="normal" fill="#131722" textLength="25.95" lengthAdjust="spacingAndGlyphs">Sep</text>
<text x="947.21" y="661.80" font-family="Liberation Sans, Arial, sans-serif" font-size="15.5" font-weight="normal" fill="#131722" textLength="22.69" lengthAdjust="spacingAndGlyphs">Oct</text>
<text x="1101.86" y="661.80" font-family="Liberation Sans, Arial, sans-serif" font-size="15.5" font-weight="normal" fill="#131722" textLength="25.94" lengthAdjust="spacingAndGlyphs">Nov</text>
<text x="1247.33" y="661.80" font-family="Liberation Sans, Arial, sans-serif" font-size="15.5" font-weight="normal" fill="#131722" textLength="25.94" lengthAdjust="spacingAndGlyphs">Dec</text>
<text x="1393.80" y="661.80" font-family="Liberation Sans, Arial, sans-serif" font-size="15.5" font-weight="bold" fill="#131722" textLength="33.88" lengthAdjust="spacingAndGlyphs">2025</text>
<text x="22.29" y="38.00" font-family="Liberation Sans, Arial, sans-serif" font-size="15.5" font-weight="normal" fill="#131722" textLength="122.37" lengthAdjust="spacingAndGlyphs">EUR/USD Spot, 1D</text>
<text x="154.10" y="38.00" font-family="Liberation Sans, Arial, sans-serif" font-size="15.5" font-weight="normal" fill="#131722" textLength="9.55" lengthAdjust="spacingAndGlyphs">O</text>
<text x="164.27" y="38.00" font-family="Liberation Sans, Arial, sans-serif" font-size="15.5" font-weight="normal" fill="#f23645" textLength="51.85" lengthAdjust="spacingAndGlyphs">1.02959</text>
<text x="225.52" y="38.00" font-family="Liberation Sans, Arial, sans-serif" font-size="15.5" font-weight="normal" fill="#131722" textLength="9.83" lengthAdjust="spacingAndGlyphs">H</text>
<text x="235.94" y="38.00" font-family="Liberation Sans, Arial, sans-serif" font-size="15.5" font-weight="normal" fill="#f23645" textLength="52.82" lengthAdjust="spacingAndGlyphs">1.03117</text>
<text x="296.71" y="38.00" font-family="Liberation Sans, Arial, sans-serif" font-size="15.5" font-weight="normal" fill="#131722" textLength="8.50" lengthAdjust="spacingAndGlyphs">L</text>
<text x="304.46" y="38.00" font-family="Liberation Sans, Arial, sans-serif" font-size="15.5" font-weight="normal" fill="#f23645" textLength="52.77" lengthAdjust="spacingAndGlyphs">1.02608</text>
<text x="367.10" y="38.00" font-family="Liberation Sans, Arial, sans-serif" font-size="15.5" font-weight="normal" fill="#131722" textLength="7.94" lengthAdjust="spacingAndGlyphs">C</text>
<text x="375.26" y="38.00" font-family="Liberation Sans, Arial, sans-serif" font-size="15.5" font-weight="normal" fill="#f23645" textLength="52.67" lengthAdjust="spacingAndGlyphs">1.02925</text>
<text x="436.96" y="38.00" font-family="Liberation Sans, Arial, sans-serif" font-size="15.5" font-weight="normal" fill="#f23645" textLength="60.92" lengthAdjust="spacingAndGlyphs">−0.00034</text>
<text x="501.39" y="38.00" font-family="Liberation Sans, Arial, sans-serif" font-size="15.5" font-weight="normal" fill="#f23645" textLength="57.51" lengthAdjust="spacingAndGlyphs">(−0.03%)</text>
<text x="22.23" y="58.80" font-family="Liberation Sans, Arial, sans-serif" font-size="15.5" font-weight="normal" fill="#131722" textLength="300.43" lengthAdjust="spacingAndGlyphs">Moving Average Triple (20, 100, 200, Simple)</text>
<text x="331.67" y="58.80" font-family="Liberation Sans, Arial, sans-serif" font-size="15.5" font-weight="normal" fill="#ff6d00" textLength="51.85" lengthAdjust="spacingAndGlyphs">1.03427</text>
<text x="393.98" y="58.80" font-family="Liberation Sans, Arial, sans-serif" font-size="15.5" font-weight="normal" fill="#2196f3" textLength="51.75" lengthAdjust="spacingAndGlyphs">1.07175</text>
<text x="455.17" y="58.80" font-family="Liberation Sans, Arial, sans-serif" font-size="15.5" font-weight="normal" fill="#26c6da" textLength="52.26" lengthAdjust="spacingAndGlyphs">1.07765</text>
<text x="22.96" y="351.00" font-family="Liberation Sans, Arial, sans-serif" font-size="15.5" font-weight="normal" fill="#131722" textLength="51.23" lengthAdjust="spacingAndGlyphs">RSI (14)</text>
<text x="83.50" y="351.00" font-family="Liberation Sans, Arial, sans-serif" font-size="15.5" font-weight="normal" fill="#7e57c2" textLength="35.33" lengthAdjust="spacingAndGlyphs">41.41</text>
<text x="22.05" y="507.70" font-family="Liberation Sans, Arial, sans-serif" font-size="15.5" font-weight="normal" fill="#131722" textLength="157.24" lengthAdjust="spacingAndGlyphs">MACD (12, 26, close, 9)</text>
<text x="189.30" y="507.70" font-family="Liberation Sans, Arial, sans-serif" font-size="15.5" font-weight="normal" fill="#26a69a" textLength="50.63" lengthAdjust="spacingAndGlyphs">0.00031</text>
<text x="250.59" y="507.70" font-family="Liberation Sans, Arial, sans-serif" font-size="15.5" font-weight="normal" fill="#2196f3" textLength="59.50" lengthAdjust="spacingAndGlyphs">−0.00581</text>
<text x="319.57" y="507.70" font-family="Liberation Sans, Arial, sans-serif" font-size="15.5" font-weight="normal" fill="#ff6d00" textLength="60.72" lengthAdjust="spacingAndGlyphs">−0.00612</text>
<text x="42.00" y="701.90" font-family="Liberation Sans, Arial, sans-serif" font-size="15.6" font-weight="normal" fill="#131722" textLength="87.31" lengthAdjust="spacingAndGlyphs">TradingView</text>
<path d="M13.1,689.9 H22.9 V701.9 H17.8 V694.6 H13.1 Z" fill="#131722"/>
<circle cx="26.9" cy="691.9" r="2.1" fill="#131722"/>
<path d="M30.7,690 H37.3 L32.9,701.9 H26.4 Z" fill="#131722"/>
</svg>
</body></html>
